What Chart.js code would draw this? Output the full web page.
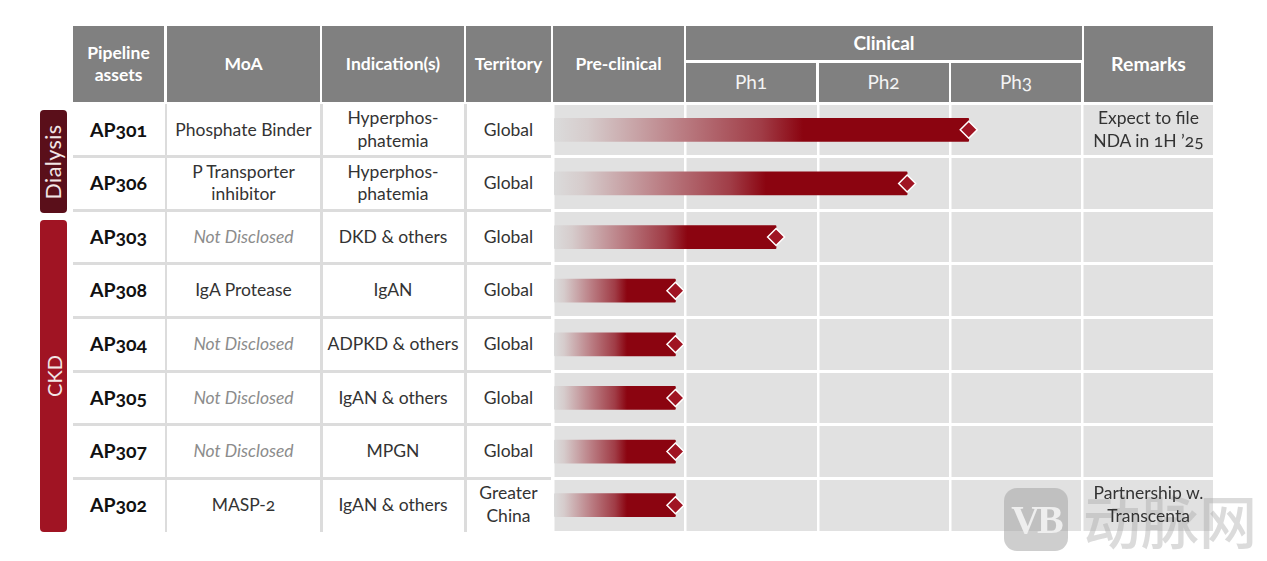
<!DOCTYPE html>
<html>
<head>
<meta charset="utf-8">
<script src="https://cdn.jsdelivr.net/npm/chart.js@4"></script>
<style>
  html, body { margin: 0; padding: 0; background: #fff; overflow: hidden; }
  body { width: 1267px; height: 561px; position: relative; font-family: Lato, sans-serif; font-variant-numeric: oldstyle-nums; }
  .cell { position: absolute; display: flex; align-items: center; justify-content: center; text-align: center; line-height: 22.5px; font-size: 17.5px; color: #333; z-index: 3; box-sizing: border-box; }
  .head { background: #808080; color: #fff; font-weight: 700; font-size: 17.5px; z-index: 2; }
  .ph { font-weight: 400; font-size: 19px; color: #f4f4f4; }
  .asset { font-weight: 700; font-size: 19.5px; color: #111; }
  .nd { font-style: italic; color: #8c8c8c; }
  .hline, .vline { position: absolute; background: #dcdcdc; }
  .side { position: absolute; border-radius: 4px; color: #f2e6e6; font-size: 20px; display: flex; align-items: center; justify-content: center; }
  .side span { transform: rotate(-90deg); white-space: nowrap; }
  #gantt { position: absolute; left: 553px; top: 103px; width: 660px; height: 429px; z-index: 1; }
  #logo { position: absolute; left: 1004px; top: 488px; width: 64px; height: 63px; border-radius: 13px; background: rgba(165,165,165,.55); color: #eee; font: 700 40px "Liberation Serif", serif; display: flex; align-items: center; justify-content: center; z-index: 2; letter-spacing: -3px; }
  #wm { position: absolute; left: 1083px; top: 484px; font: 500 58px/70px "Noto Sans CJK SC", sans-serif; color: rgba(170,170,170,.42); z-index: 2; white-space: nowrap; }
</style>
</head>
<body>
<div id="gantt"><canvas id="chartPipeline"></canvas></div>
<div id="logo">VB</div>
<div id="wm">动脉网</div>
<script>
const assets = ['AP301', 'AP306', 'AP303', 'AP308', 'AP304', 'AP305', 'AP307', 'AP302'];
const moa = ['Phosphate Binder', 'P Transporter<br>inhibitor', 'Not Disclosed', 'IgA Protease', 'Not Disclosed', 'Not Disclosed', 'Not Disclosed', 'MASP-2'];
const indications = ['Hyperphos-<br>phatemia', 'Hyperphos-<br>phatemia', 'DKD &amp; others', 'IgAN', 'ADPKD &amp; others', 'IgAN &amp; others', 'MPGN', 'IgAN &amp; others'];
const territory = ['Global', 'Global', 'Global', 'Global', 'Global', 'Global', 'Global', 'Greater<br>China'];
const remarks = ['Expect to file<br>NDA in 1H ’25', '', '', '', '', '', '', 'Partnership w.<br>Transcenta'];
const phases = ['Ph1', 'Ph2', 'Ph3'];

// progress in stage units: 0 = start of pre-clinical, 1 = end of pre-clinical, 2 = end of Ph1 ...
const barStart = [0.01, 0.01, 0.01, 0.01, 0.01, 0.01, 0.01, 0.01];
const barEnd = [3.14, 2.675, 1.685, 0.925, 0.925, 0.925, 0.925, 0.925];

// table built around the chart
const colLeft = [73, 167, 322, 466];
const colWidth = [91, 153, 142, 85];
const rowTop = 103, rowH = 53.6;

function addCell(cls, x, y, w, h, html) {
  const d = document.createElement('div');
  d.className = 'cell ' + cls;
  d.style.cssText = `left:${x}px;top:${y}px;width:${w}px;height:${h}px`;
  d.innerHTML = html;
  document.body.appendChild(d);
}

function addLine(cls, x, y, w, h) {
  const d = document.createElement('div');
  d.className = cls;
  d.style.cssText = `left:${x}px;top:${y}px;width:${w}px;height:${h}px`;
  document.body.appendChild(d);
}

// header
['Pipeline<br>assets', 'MoA', 'Indication(s)', 'Territory'].forEach((t, i) => {
  addCell('head', colLeft[i], 26, colWidth[i], 76, t);
});
addCell('head', 553, 26, 131, 76, 'Pre-clinical');
addCell('head', 686, 26, 396, 34, '<span style="font-size:19px">Clinical</span>');
phases.forEach((p, i) => {
  addCell('head ph', 686 + i * 132.5, 63, 130, 39, p);
});
addCell('head', 1084, 26, 129, 76, '<span style="font-size:19.5px">Remarks</span>');

// rows
assets.forEach((a, i) => {
  const y = rowTop + i * rowH;
  const h = rowH;
  addCell('asset', colLeft[0], y, colWidth[0], h, a);
  addCell(moa[i] === 'Not Disclosed' ? 'nd' : '', colLeft[1], y, colWidth[1], h, moa[i]);
  addCell('', colLeft[2], y, colWidth[2], h, indications[i]);
  addCell('', colLeft[3], y, colWidth[3], h, territory[i]);
  if (remarks[i]) addCell('', 1084, y, 129, h, remarks[i]);
  if (i < assets.length - 1) addLine('hline', 73, y + rowH - 1.5, 478, 3);
});
[164.5, 320, 464].forEach(x => addLine('vline', x, 104, 2.5, 428));

// side labels
function addSide(text, y, h, color, style) {
  const d = document.createElement('div');
  d.className = 'side';
  d.style.cssText = `left:40px;top:${y}px;width:27px;height:${h}px;background:${color}`;
  d.innerHTML = `<span style="${style}">${text}</span>`;
  document.body.appendChild(d);
}
addSide('Dialysis', 110, 103, '#5a0f1a', 'font-size:21.5px;letter-spacing:.4px');
addSide('CKD', 220, 312, '#a01423', '');

function barGradient(context) {
  const chart = context.chart;
  const i = context.dataIndex;
  if (!chart.scales.x || i === undefined) return '#8b0410';
  const x0 = chart.scales.x.getPixelForValue(barStart[i]);
  const x1 = chart.scales.x.getPixelForValue(barEnd[i]);
  if (!isFinite(x0) || !isFinite(x1)) return '#8b0410';
  const g = chart.ctx.createLinearGradient(x0, 0, x1, 0);
  g.addColorStop(0, '#dbdbdb');
  g.addColorStop(0.08, '#d6cccc');
  g.addColorStop(0.3, '#bb7f85');
  g.addColorStop(0.5, '#a03c46');
  g.addColorStop(0.6, '#8b0410');
  g.addColorStop(1, '#8b0410');
  return g;
}

// grey plot area behind the grid
const plotBg = {
  id: 'plotBg',
  beforeDraw(chart) {
    const a = chart.chartArea;
    chart.ctx.fillStyle = '#e1e1e1';
    chart.ctx.fillRect(a.left, a.top, a.width, a.height);
  }
};

new Chart(document.getElementById('chartPipeline'), {
  type: 'bar',
  plugins: [plotBg],
  data: {
    labels: assets,
    datasets: [
      {
        type: 'line',
        indexAxis: 'y',
        data: barEnd,
        showLine: false,
        pointStyle: 'rectRot',
        pointRadius: 8.5,
        pointBackgroundColor: '#a01423',
        pointBorderColor: '#fff',
        pointBorderWidth: 1.5,
        order: 0
      },
      {
        data: barEnd.map((v, i) => [barStart[i], v]),
        backgroundColor: barGradient,
        barThickness: 23,
        borderRadius: 1,
        borderSkipped: false,
        order: 1
      }
    ]
  },
  options: {
    indexAxis: 'y',
    responsive: true,
    maintainAspectRatio: false,
    animation: false,
    layout: { padding: 0, autoPadding: false },
    plugins: { legend: { display: false }, tooltip: { enabled: false } },
    scales: {
      x: {
        min: 0,
        max: 4.985,
        ticks: { display: false, stepSize: 1, includeBounds: false },
        border: { display: false },
        grid: { color: '#fff', lineWidth: 2.5, drawTicks: false }
      },
      y: {
        ticks: { display: false },
        border: { display: false },
        grid: { color: '#fff', lineWidth: 3, drawTicks: false }
      }
    }
  }
});
</script>
</body>
</html>
